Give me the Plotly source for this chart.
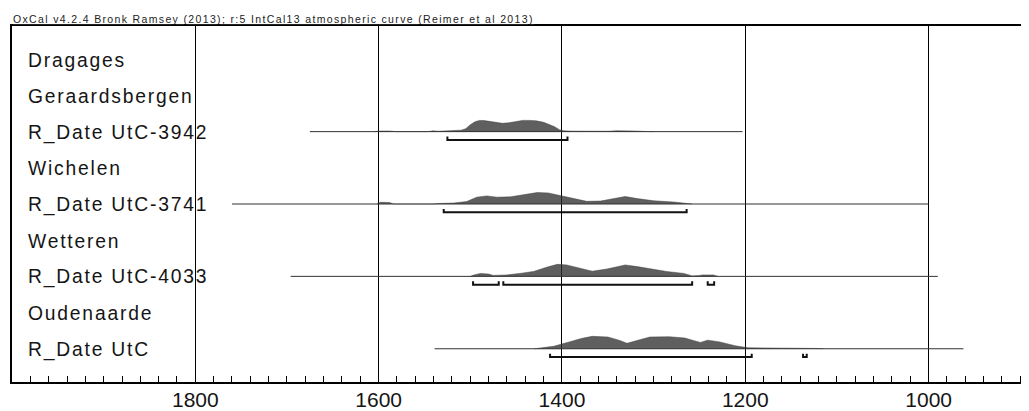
import plotly.graph_objects as go

# ---------------- data ----------------
row_labels = ["Dragages", "Geraardsbergen", "R_Date UtC-3942", "Wichelen",
              "R_Date UtC-3741", "Wetteren", "R_Date UtC-4033", "Oudenaarde",
              "R_Date UtC"]

tick_years = [1800, 1600, 1400, 1200, 1000]
tick_text = ["1800", "1600", "1400", "1200", "1000"]

title_text = "OxCal v4.2.4 Bronk Ramsey (2013); r:5 IntCal13 atmospheric curve (Reimer et al 2013)"

# R_Date UtC-3942
utc3942_row = 2
utc3942_span = [1675, 1203]
utc3942_years = [1605, 1599, 1588, 1581, 1546, 1541, 1535, 1528, 1518, 1510, 1505, 1500,
                 1495, 1490, 1485, 1478, 1471, 1465, 1458, 1450, 1443, 1435, 1428, 1420,
                 1414, 1408, 1403, 1398, 1390, 1370, 1350, 1340, 1330, 1320, 1310, 1300]
utc3942_prob = [0, 0.6, 0.6, 0, 0, 0.8, 0.4, 0.6, 0.9, 1.5, 3, 7,
                10, 11.5, 11.3, 10.5, 9, 8.5, 9, 10.5, 11.5, 11.5, 11, 9.5,
                7.5, 5, 2, 0.8, 0.5, 0.3, 0.4, 0.9, 1, 0.6, 0.2, 0]
utc3942_ranges = [[1525, 1394]]

# R_Date UtC-3741
utc3741_row = 4
utc3741_span = [1760, 1000]
utc3741_years = [1602, 1598, 1588, 1584, 1540, 1535, 1518, 1504, 1493, 1482, 1471, 1456,
                 1442, 1427, 1415, 1402, 1387, 1373, 1358, 1344, 1331, 1318, 1300, 1278,
                 1264, 1258]
utc3741_prob = [0, 1.8, 1.5, 0, 0, 0.5, 1, 2.5, 7, 8.3, 7, 7.3,
                9.5, 11.7, 11.3, 8.5, 5.5, 2.7, 3, 5.5, 7.7, 5.5, 3.3, 2,
                0.7, 0]
utc3741_ranges = [[1529, 1264]]

# R_Date UtC-4033
utc4033_row = 6
utc4033_span = [1696, 990]
utc4033_years = [1500, 1496, 1489, 1480, 1475, 1460, 1446, 1431, 1416, 1405, 1395, 1380,
                 1367, 1351, 1331, 1318, 1304, 1286, 1267, 1258, 1250, 1247, 1235, 1230]
utc4033_prob = [0, 1.5, 3, 2.3, 1, 1.5, 3, 5, 9.5, 12.3, 11.7, 8,
                5.3, 7.5, 11.7, 10, 7.5, 5, 3, 0.5, 0.8, 1.5, 1.5, 0]
utc4033_ranges = [[1497, 1469], [1464, 1258], [1241, 1234]]

# R_Date UtC
utc_row = 8
utc_span = [1539, 962]
utc_years = [1430, 1425, 1409, 1392, 1379, 1367, 1350, 1337, 1329, 1316, 1304, 1283,
             1266, 1255, 1249, 1241, 1228, 1211, 1197, 1178, 1136, 1121, 1115]
utc_prob = [0, 0.5, 2.5, 7, 10.5, 12.7, 12, 8.5, 5.5, 9, 12, 12.3,
            11, 8, 6.5, 8.8, 7, 3, 1, 0.8, 1, 0.3, 0]
utc_ranges = [[1413, 1193], [1137, 1133]]

dates = [
    (utc3942_row, utc3942_span, utc3942_years, utc3942_prob, utc3942_ranges),
    (utc3741_row, utc3741_span, utc3741_years, utc3741_prob, utc3741_ranges),
    (utc4033_row, utc4033_span, utc4033_years, utc4033_prob, utc4033_ranges),
    (utc_row, utc_span, utc_years, utc_prob, utc_ranges),
]

# ---------------- styling ----------------
ROW_PX = 37.0
DENS = 1.0 / ROW_PX          # row units per density unit (1 unit ~ 1 px)
BRACKET_Y = 8.5 / ROW_PX
BRACKET_TICK = 3.5 / ROW_PX
FONT = "Arial, Liberation Sans, Helvetica, sans-serif"

fig = go.Figure()

for row, span, yrs, prob, ranges in dates:
    # baseline
    fig.add_trace(go.Scatter(x=span, y=[row, row], mode="lines",
                             line=dict(color="#333333", width=1),
                             hoverinfo="skip", showlegend=False))
    # probability distribution
    fig.add_trace(go.Scatter(x=yrs, y=[row - p * DENS for p in prob], mode="lines",
                             fill="toself", fillcolor="rgba(45,45,45,0.76)",
                             line=dict(color="rgba(60,60,60,0.8)", width=0.6),
                             hoverinfo="skip", showlegend=False))
    # 95.4% ranges
    for a, b in ranges:
        yb = row + BRACKET_Y
        fig.add_trace(go.Scatter(x=[a, a, b, b],
                                 y=[yb - BRACKET_TICK, yb, yb, yb - BRACKET_TICK],
                                 mode="lines", line=dict(color="#111111", width=2),
                                 hoverinfo="skip", showlegend=False))

annotations = []
for i, lab in enumerate(row_labels):
    annotations.append(dict(
        x=0, xref="paper", xshift=14, xanchor="left",
        y=i, yref="y", yanchor="middle", yshift=-1,
        text='<span style="letter-spacing:1.8px">' + lab + '</span>',
        showarrow=False, font=dict(family=FONT, size=19.3, color="#151515")))

annotations.append(dict(
    x=0, xref="paper", xshift=-1, xanchor="left",
    y=1, yref="paper", yanchor="bottom", yshift=-1,
    text='<u><span style="letter-spacing:1.35px">' + title_text + '</span></u>',
    showarrow=False, font=dict(family=FONT, size=10.5, color="#222222")))

n = len(row_labels)
pad = 34.0 / ROW_PX

# the page body has an 8px default margin; the figure is sized to fill the rest
fig.update_layout(
    width=1021, height=403,
    margin=dict(l=4, r=0, t=18, b=21, pad=0),
    paper_bgcolor="white", plot_bgcolor="white",
    annotations=annotations,
    font=dict(family=FONT),
    xaxis=dict(
        range=[2000, 890.5],
        tickmode="array", tickvals=tick_years, ticktext=tick_text,
        ticks="inside", ticklen=6, tickwidth=1, tickcolor="black",
        tickfont=dict(family=FONT, size=21, color="#151515"),
        ticklabelstandoff=-2,
        showgrid=True, gridcolor="black", gridwidth=1.2,
        zeroline=False,
        showline=True, linecolor="black", linewidth=2, mirror=True,
        minor=dict(tickmode="linear", tick0=0, dtick=20, ticks="inside",
                   ticklen=6, tickwidth=1, tickcolor="black", showgrid=False),
    ),
    yaxis=dict(
        range=[n - 1 + pad, -pad],
        showticklabels=False, ticks="", showgrid=False, zeroline=False,
        showline=True, linecolor="black", linewidth=2, mirror=False,
    ),
)

fig.write_html("out.html")
